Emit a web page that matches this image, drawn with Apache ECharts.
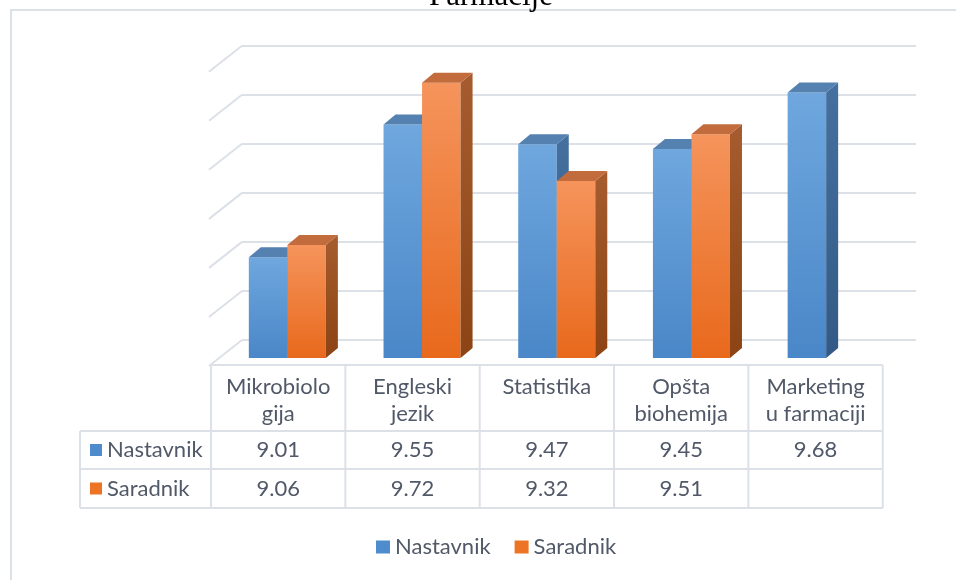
<!DOCTYPE html>
<html>
<head>
<meta charset="utf-8">
<script src="https://cdn.jsdelivr.net/npm/echarts@6/dist/echarts.min.js"></script>
<style>
  html, body { margin: 0; padding: 0; background: #fff; }
  #chart { width: 956px; height: 580px; }
</style>
</head>
<body>
<div id="chart"></div>
<script>
// podaci
const categories = ['Mikrobiolo\ngija', 'Engleski\njezik', 'Statistika', 'Opšta\nbiohemija', 'Marketing\nu farmaciji'];
const nastavnik = [9.01, 9.55, 9.47, 9.45, 9.68];
const saradnik = [9.06, 9.72, 9.32, 9.51, null];
const seriesNames = ['Nastavnik', 'Saradnik'];
const gridValues = [8.6, 8.8, 9.0, 9.2, 9.4, 9.6, 9.8];

const textColor = '#515968';
const lineColor = '#dce0e7';
const font = 'Lato';
const fontSize = 22;

const palette = [
  { front: ['#6fa7de', '#4a87c8'], side: ['#45709f', '#335a86'], top: '#5581b1', legend: '#4e8ccd' },
  { front: ['#f5945c', '#e8691c'], side: ['#a65c2e', '#8c4414'], top: '#c26c3d', legend: '#ed7424' }
];

const DX = 12, DY = -10; // dubina stubića

function barSeries(idx, values) {
  const c = palette[idx];
  return {
    type: 'custom',
    name: seriesNames[idx],
    xAxisIndex: 1,
    yAxisIndex: 1,
    itemStyle: { color: c.legend },
    data: values.map((v, i) => [i, v]).filter(d => d[1] != null),
    encode: { x: 0, y: 1 },
    renderItem(params, api) {
      const i = api.value(0);
      const top = api.coord([i, api.value(1)]);
      const base = api.coord([i, 8.6]);
      const band = api.size([1, 0])[0];
      const w = band * 0.286;
      const x0 = top[0] - w + idx * w;
      const yT = top[1], yB = base[1];
      return {
        type: 'group',
        children: [
          {
            type: 'rect',
            shape: { x: x0, y: yT, width: w, height: yB - yT },
            style: { fill: new echarts.graphic.LinearGradient(0, 0, 0, 1, [
              { offset: 0, color: c.front[0] }, { offset: 1, color: c.front[1] }]) }
          },
          {
            type: 'polygon',
            shape: { points: [[x0 + w, yT], [x0 + w + DX, yT + DY], [x0 + w + DX, yB + DY], [x0 + w, yB]] },
            style: { fill: new echarts.graphic.LinearGradient(0, 0, 0, 1, [
              { offset: 0, color: c.side[0] }, { offset: 1, color: c.side[1] }]) }
          },
          {
            type: 'polygon',
            shape: { points: [[x0, yT], [x0 + DX, yT + DY], [x0 + w + DX, yT + DY], [x0 + w, yT]] },
            style: { fill: c.top }
          }
        ]
      };
    }
  };
}

// tabela podataka
const tableLeft = 211, colW = 134.35, labelLeft = 80;
const rowTop = 365, rowH1 = 431, rowH2 = 469, rowBottom = 508;
const tableRight = tableLeft + colW * categories.length;

function line(x1, y1, x2, y2) {
  return { type: 'line', silent: true, z: 10,
    shape: { x1, y1, x2, y2 }, style: { stroke: lineColor, lineWidth: 2 } };
}
function txt(x, y, text, align) {
  return { type: 'text', silent: true, z: 11, x, y,
    style: { text, font: fontSize + 'px ' + font, fill: textColor, align: align || 'center',
      verticalAlign: 'middle', lineHeight: 27 } };
}

const graphics = [
  { type: 'rect', silent: true, z: 0, shape: { x: 11, y: 10, width: 1000, height: 1000 },
    style: { fill: null, stroke: lineColor, lineWidth: 2 } },
  { type: 'text', silent: true, z: 20, x: 491, y: 12,
    style: { text: 'Farmacije', font: '31px "Liberation Serif"', fill: '#000',
      align: 'center', verticalAlign: 'bottom' } },
  line(tableLeft, rowTop, tableRight, rowTop),
  line(labelLeft, rowH1, tableRight, rowH1),
  line(labelLeft, rowH2, tableRight, rowH2),
  line(labelLeft, rowBottom, tableRight, rowBottom),
  line(labelLeft, rowH1, labelLeft, rowBottom)
];
for (let k = 0; k <= categories.length; k++) {
  const x = tableLeft + colW * k;
  graphics.push(line(x, rowTop, x, rowBottom));
}
categories.forEach((cat, i) => {
  const cx = tableLeft + colW * (i + 0.5);
  graphics.push({ type: 'text', silent: true, z: 11, x: cx, y: 373,
    style: { text: cat, font: fontSize + 'px ' + font, fill: textColor, align: 'center',
      verticalAlign: 'top', lineHeight: 27 } });
  if (nastavnik[i] != null) graphics.push(txt(cx, (rowH1 + rowH2) / 2, nastavnik[i].toFixed(2)));
  if (saradnik[i] != null) graphics.push(txt(cx, (rowH2 + rowBottom) / 2, saradnik[i].toFixed(2)));
});
[[nastavnik, rowH1, rowH2], [saradnik, rowH2, rowBottom]].forEach((r, s) => {
  const cy = (r[1] + r[2]) / 2;
  graphics.push({ type: 'rect', silent: true, z: 11, shape: { x: 90, y: cy - 6, width: 12, height: 12 },
    style: { fill: palette[s].legend } });
  graphics.push(txt(107, cy, seriesNames[s], 'left'));
});

const chart = echarts.init(document.getElementById('chart'));
chart.setOption({
  animation: false,
  graphic: graphics,
  grid: [
    { left: 242, top: 45.7, width: 674, height: 294.3 },   // zadnji zid
    { left: 220, top: 63, width: 673.5, height: 295 }      // prednja ravan stubića
  ],
  xAxis: [
    { type: 'category', gridIndex: 0, data: categories, show: false },
    { type: 'category', gridIndex: 1, data: categories, show: false }
  ],
  yAxis: [
    { type: 'value', gridIndex: 0, min: 8.6, max: 9.8, interval: 0.2,
      axisLine: { show: false }, axisTick: { show: false }, axisLabel: { show: false },
      splitLine: { lineStyle: { color: lineColor, width: 2 } } },
    { type: 'value', gridIndex: 1, min: 8.6, max: 9.8, interval: 0.2, show: false,
      splitLine: { show: false } }
  ],
  legend: {
    data: seriesNames,
    left: 376, top: 536, padding: 0,
    icon: 'rect', itemWidth: 14, itemHeight: 13, itemGap: 24,
    textStyle: { fontFamily: font, fontSize: fontSize, color: textColor }
  },
  series: [
    {
      type: 'custom',
      silent: true,
      xAxisIndex: 0,
      yAxisIndex: 0,
      data: gridValues.map(v => [0, v]),
      renderItem(params, api) {
        const p = api.coord([0, api.value(1)]);
        const left = params.coordSys.x;
        return { type: 'line', shape: { x1: left, y1: p[1], x2: left - 33, y2: p[1] + 26 },
          style: { stroke: lineColor, lineWidth: 2 } };
      }
    },
    barSeries(0, nastavnik),
    barSeries(1, saradnik)
  ]
});
</script>
</body>
</html>
